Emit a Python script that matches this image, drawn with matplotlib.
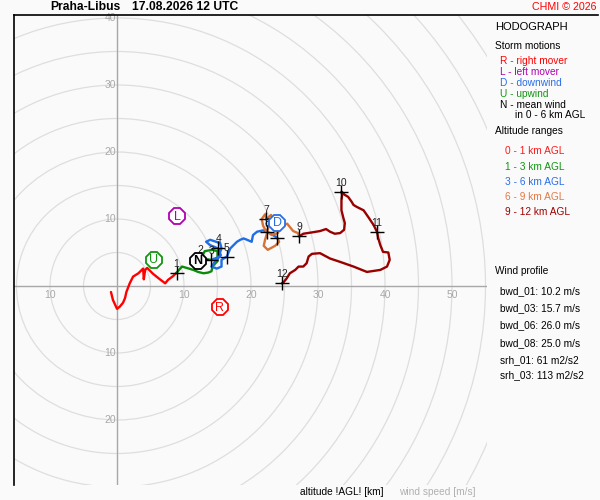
import matplotlib
matplotlib.use('Agg')
import matplotlib.pyplot as plt
from matplotlib.patches import Circle
from matplotlib.lines import Line2D

plt.rcParams['font.family'] = ['Liberation Sans', 'DejaVu Sans']

# ---------------- data (m/s) ----------------
seg_0_1_u = [-0.9, -0.6, 0.0, 0.4, 0.9, 1.2, 1.4, 1.9, 2.4, 3.2, 3.7, 3.9, 4.0, 4.2, 4.5, 5.4, 6.4, 7.2, 7.6, 8.4, 8.9]
seg_0_1_v = [-0.9, -2.1, -3.4, -3.1, -2.5, -1.8, -0.9, 0.4, 1.4, 1.9, 2.4, 2.6, 1.0, 2.4, 2.7, 1.8, 1.0, 0.4, 0.9, 1.5, 2.0]

seg_1_3_u = [8.9, 9.7, 10.4, 11.4, 12.1, 12.9, 13.6, 14.1, 14.3, 15.0, 15.0, 14.2, 13.1, 12.5, 13.3, 14.1]
seg_1_3_v = [2.0, 2.9, 2.7, 2.4, 2.1, 1.9, 2.0, 2.2, 3.0, 3.7, 5.2, 5.4, 5.2, 4.1, 4.0, 3.9]

seg_3_6_u = [14.1, 15.1, 15.6, 15.4, 13.9, 13.3, 13.9, 15.1, 15.5, 14.6, 14.1, 14.9, 15.6, 15.6, 16.4,
             16.9, 17.4, 17.9, 18.4, 18.9, 19.4, 20.1, 20.3, 20.9, 21.8, 22.8, 23.9]
seg_3_6_v = [3.9, 4.3, 5.6, 6.4, 6.9, 6.6, 6.1, 5.6, 4.6, 3.6, 2.9, 2.6, 2.9, 3.9, 4.4,
             5.6, 6.1, 6.6, 6.9, 7.1, 6.9, 6.6, 7.6, 8.1, 8.3, 7.9, 7.2]

seg_6_9_u = [23.9, 24.2, 23.6, 22.5, 21.9, 22.1, 22.4, 21.8, 21.6, 22.1, 22.3, 23.0, 23.3, 22.7, 22.4,
             23.1, 24.0, 24.6, 25.4, 25.8, 26.3, 27.0, 27.2]
seg_6_9_v = [7.2, 6.6, 6.0, 5.4, 6.0, 6.9, 7.9, 9.0, 10.0, 10.7, 10.0, 10.6, 10.0, 9.1, 8.1,
             7.6, 7.9, 9.0, 9.3, 8.8, 8.2, 7.9, 7.4]

seg_9_12_u = [27.2, 27.8, 29.1, 30.3, 31.2, 31.8, 32.5, 33.3, 33.9, 34.0, 33.8, 33.5, 33.5, 33.6, 33.5,
              34.0, 34.5, 35.0, 35.3, 35.8, 36.8, 37.5, 38.3, 38.8,
              39.0, 39.3, 39.7, 40.5, 40.7, 40.3, 39.3, 37.3, 35.3, 33.3, 31.8, 30.3, 29.1, 28.6,
              28.3, 27.8, 27.1, 26.6, 25.8, 25.3, 24.8, 24.6]
seg_9_12_v = [7.4, 7.8, 8.0, 8.2, 8.5, 8.1, 7.8, 7.9, 8.4, 9.4, 10.1, 11.3, 12.8, 13.6, 14.1,
              13.6, 13.3, 12.6, 12.1, 11.8, 11.3, 10.3, 9.1, 8.1,
              7.1, 6.1, 5.1, 5.0, 3.9, 2.9, 2.4, 2.1, 2.9, 3.6, 4.1, 4.9, 4.8, 4.4,
              3.4, 2.9, 2.9, 2.4, 1.9, 1.1, 0.5, 0.4]

km_labels = ['1', '2', '3', '4', '5', '6', '7', '8', '9', '10', '11', '12']
km_u = [8.9, 12.5, 14.1, 15.1, 16.4, 23.9, 22.3, 22.4, 27.2, 33.5, 38.8, 24.6]
km_v = [2.0, 4.1, 3.9, 5.6, 4.4, 7.2, 10.0, 8.1, 7.4, 14.1, 8.1, 0.4]

storm_names = ['R', 'L', 'D', 'U', 'N']
storm_u = [15.3, 9.0, 23.9, 5.5, 12.1]
storm_v = [-3.2, 10.4, 9.4, 3.9, 3.8]

ring_speeds = list(range(5, 75, 5))
x_tick_values = [-10, 10, 20, 30, 40, 50]
y_tick_values = [-30, -20, -10, 10, 20, 30, 40]

storm_legend = ['R - right mover', 'L - left mover', 'D - downwind', 'U - upwind', 'N - mean wind']
alt_legend = ['0 - 1 km AGL', '1 - 3 km AGL', '3 - 6 km AGL', '6 - 9 km AGL', '9 - 12 km AGL']
profile_legend = ['bwd_01: 10.2 m/s', 'bwd_03: 15.7 m/s', 'bwd_06: 26.0 m/s', 'bwd_08: 25.0 m/s']
srh_legend = ['srh_01: 61 m2/s2', 'srh_03: 113 m2/s2']

# ---------------- styles ----------------
BG = '#fafafa'
GRAY = '#a8a8a8'
RING = '#dedede'
seg_colors = ['#ff0000', '#0a8c0a', '#1e6ee6', '#d67236', '#990000']
storm_colors = {'R': '#ff0000', 'L': '#b000b0', 'D': '#2a6ee6', 'U': '#129612', 'N': '#000000'}
leg_storm_colors = ['#ff0000', '#b000b0', '#2a6ee6', '#129612', '#000000']
leg_alt_colors = ['#ff1a1a', '#129612', '#2a6ee6', '#e07a45', '#a00000']

W, H = 600, 500
fig = plt.figure(figsize=(6, 5), dpi=100, facecolor=BG)

px = 6.7  # pixels per m/s
ox, oy = 117, 286  # origin in pixels (from top-left)
ax_l, ax_r, ax_t, ax_b = 14, 487, 15, 485
ax = fig.add_axes([ax_l / W, 1 - ax_b / H, (ax_r - ax_l) / W, (ax_b - ax_t) / H])
ax.set_facecolor(BG)
ax.set_xlim((ax_l - ox) / px, (ax_r - ox) / px)
ax.set_ylim((oy - ax_b) / px, (oy - ax_t) / px)
ax.set_xticks([])
ax.set_yticks([])
for s in ['right', 'bottom', 'top']:
    ax.spines[s].set_visible(False)
ax.spines['left'].set_color('black')
ax.spines['left'].set_linewidth(1.2)
fig.add_artist(Line2D([ax_l / W, 598 / W], [1 - ax_t / H, 1 - ax_t / H], color='black', lw=1.2))

for r in ring_speeds:
    ax.add_patch(Circle((0, 0), r, fill=False, edgecolor=RING, lw=0.9, zorder=1))
ax.axhline(0, color=GRAY, lw=1, zorder=2)
ax.axvline(0, color=GRAY, lw=1, zorder=2)

for v in x_tick_values:
    ax.annotate(str(abs(v)), (v, 0), xytext=(0, -9), textcoords='offset pixels',
                ha='center', va='center', color=GRAY, fontsize=7.5, zorder=2)
for v in y_tick_values:
    ax.annotate(str(abs(v)), (0, v), xytext=(-1, 0), textcoords='offset pixels',
                ha='right', va='center', color=GRAY, fontsize=7.5, zorder=2, annotation_clip=True)

segs = [(seg_0_1_u, seg_0_1_v), (seg_1_3_u, seg_1_3_v), (seg_3_6_u, seg_3_6_v),
        (seg_6_9_u, seg_6_9_v), (seg_9_12_u, seg_9_12_v)]
for (u, v), c in zip(segs, seg_colors):
    ax.plot(u, v, color=c, lw=1.7, zorder=3, solid_joinstyle='round', solid_capstyle='round')

ax.plot(km_u, km_v, linestyle='none', marker='+', color='black', ms=10, mew=1.0, zorder=4)
for lab, u, v in zip(km_labels, km_u, km_v):
    ax.annotate(lab, (u, v), xytext=(0, 9), textcoords='offset pixels', ha='center', va='center',
                fontsize=7.5, color='#222222', zorder=4.5)

for name, u, v in zip(storm_names, storm_u, storm_v):
    c = storm_colors[name]
    ax.plot([u], [v], marker='8', ms=12.5, mfc='white', mec=c, mew=1.3, zorder=5)
    ax.text(u, v - 0.05, name, ha='center', va='center', color=c, fontsize=9,
            fontweight='bold' if name == 'N' else 'normal', zorder=7)

# ---------------- texts ----------------
def ftext(x, y, s, **kw):
    fig.text(x / W, 1 - y / H, s, va='center', ha=kw.pop('ha', 'left'), **kw)

ftext(50, 7, 'Praha-Libus', fontsize=8.7, fontweight='bold')
ftext(132, 7, '17.08.2026 12 UTC', fontsize=8.7, fontweight='bold')
ftext(597, 7, 'CHMI \u00a9 2026', fontsize=7.7, color='#ff0000', ha='right')

ftext(495, 27, 'HODOGRAPH', fontsize=8)
ftext(495, 46, 'Storm motions', fontsize=7.3)
for i, (s, c) in enumerate(zip(storm_legend, leg_storm_colors)):
    ftext(500, 61.5 + 10.9 * i, s, fontsize=7.3, color=c)
ftext(515, 115, 'in 0 - 6 km AGL', fontsize=7.3)
ftext(495, 131.5, 'Altitude ranges', fontsize=7.3)
for i, (s, c) in enumerate(zip(alt_legend, leg_alt_colors)):
    ftext(505, 151.5 + 15.2 * i, s, fontsize=7.3, color=c)

ftext(495, 271, 'Wind profile', fontsize=7.3)
for i, s in enumerate(profile_legend):
    ftext(500, 291 + 17.3 * i, s, fontsize=7.3)
for i, s in enumerate(srh_legend):
    ftext(500, 360.5 + 15 * i, s, fontsize=7.3)

ftext(300, 492, 'altitude !AGL! [km]', fontsize=7.3)
ftext(399, 492, 'wind speed [m/s]', fontsize=7.3, color='#b0b0b0')

fig.savefig('out.png', dpi=100, facecolor=BG)
